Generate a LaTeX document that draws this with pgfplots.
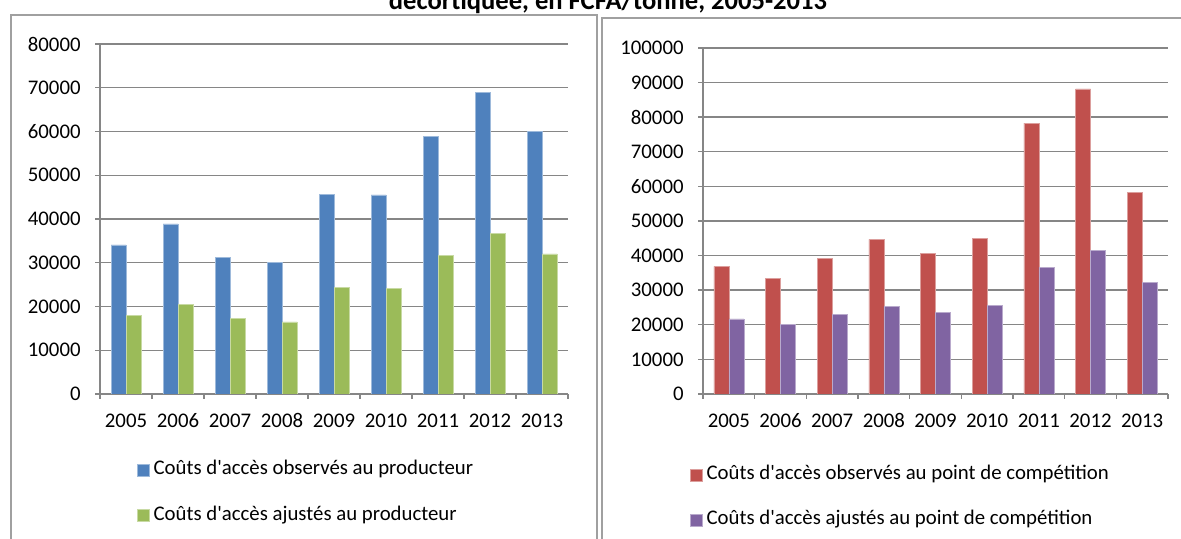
\documentclass[border=0pt]{standalone}
\usepackage{pgfplots}
\pgfplotsset{compat=1.18}
\usepackage{fontspec}
\setmainfont{Carlito}

\definecolor{obsblue}{HTML}{4F81BD}
\definecolor{adjgreen}{HTML}{9BBB59}
\definecolor{obsred}{HTML}{C0504D}
\definecolor{adjpurple}{HTML}{8064A2}
\definecolor{gridgray}{HTML}{868686}
\definecolor{framegray}{HTML}{A0A0A0}

\newcommand{\labelfont}{\fontsize{10.4}{12.5}\selectfont}

\pgfplotsset{
  costbars/.style={
    scale only axis,
    ybar=0pt, bar width=7.5pt,
    xmin=-0.5, xmax=8.5, ymin=0,
    xtick={0,1,2,3,4,5,6,7,8},
    xticklabels={2005,2006,2007,2008,2009,2010,2011,2012,2013},
    minor xtick={-0.5,0.5,1.5,2.5,3.5,4.5,5.5,6.5,7.5,8.5},
    major x tick style={draw=none},
    tick align=outside,
    major tick length=2.5pt, minor tick length=2.5pt,
    axis x line*=bottom, axis y line*=left,
    axis line style={gridgray, line width=0.7pt, -},
    tick style={gridgray, line width=0.7pt},
    ymajorgrids, grid style={gridgray, line width=0.7pt},
    scaled y ticks=false,
    yticklabel={\pgfmathprintnumber[fixed, precision=0, 1000 sep={}, assume math mode=true]{\tick}},
    tick label style={font=\labelfont, text=black},
    yticklabel style={inner sep=0pt, anchor=east, xshift=-7pt},
    xticklabel style={inner sep=0pt, anchor=base, yshift=-14.5pt},
    legend cell align=left,
    legend image code/.code={\fill[##1] (0pt,-3pt) rectangle (6pt,3pt);},
    legend style={draw=none, fill=none, inner sep=0pt, outer sep=0pt,
      font=\labelfont, row sep=12.5pt,
      nodes={inner sep=0pt, text height=7.5pt, text depth=2.5pt},
      /tikz/every odd column/.style={column sep=2pt}},
  },
}

% observed and adjusted access costs, FCFA/tonne
\pgfplotstableread{
idx prodobs prodadj compobs compadj
0   34100   18000   36900   21700
1   38900   20500   33300   20000
2   31300   17300   39300   23000
3   30100   16500   44700   25400
4   45600   24300   40600   23500
5   45500   24200   44900   25500
6   58900   31600   78300   36650
7   69000   36700   88200   41550
8   60000   32000   58300   32300
}\costdata

\begin{document}
\begin{tikzpicture}
\useasboundingbox (0,0) rectangle (590.5pt,269.5pt);

% chart frames
\draw[framegray, line width=0.75pt] (5.5pt,-5pt) -- (5.5pt,262pt) -- (298.5pt,262pt) -- (298.5pt,-5pt);
\draw[framegray, line width=0.75pt] (301pt,-5pt) -- (301pt,260.5pt) -- (600pt,260.5pt);

% title
\node[anchor=base, inner sep=0pt, font=\fontsize{13.3}{16}\selectfont\bfseries]
  at (304pt,264.5pt) {décortiquée, en FCFA/tonne, 2005-2013};

\begin{axis}[costbars,
  at={(50pt,72.5pt)}, anchor=south west,
  width=234pt, height=175pt,
  ymax=80000, ytick={0,10000,...,80000},
  legend style={at={(rel axis cs:0,0)}, anchor=north west, xshift=18.5pt, yshift=-33pt},
]
\addplot[fill=obsblue, draw=obsblue!55!white, line width=0.3pt] table[x=idx, y=prodobs] {\costdata};
\addplot[fill=adjgreen, draw=adjgreen!55!white, line width=0.3pt] table[x=idx, y=prodadj] {\costdata};
\legend{Coûts d\textquotesingle accès observés au producteur, Coûts d\textquotesingle accès ajustés au producteur}
\end{axis}

\begin{axis}[costbars,
  at={(351.5pt,72.5pt)}, anchor=south west,
  width=232.5pt, height=173pt,
  ymax=100000, ytick={0,10000,...,100000},
  legend style={at={(rel axis cs:0,0)}, anchor=north west, xshift=-6.5pt, yshift=-35.5pt},
]
\addplot[fill=obsred, draw=obsred!55!white, line width=0.3pt] table[x=idx, y=compobs] {\costdata};
\addplot[fill=adjpurple, draw=adjpurple!55!white, line width=0.3pt] table[x=idx, y=compadj] {\costdata};
\legend{Coûts d\textquotesingle accès observés au point de compétition, Coûts d\textquotesingle accès ajustés au point de compétition}
\end{axis}
\end{tikzpicture}
\end{document}
